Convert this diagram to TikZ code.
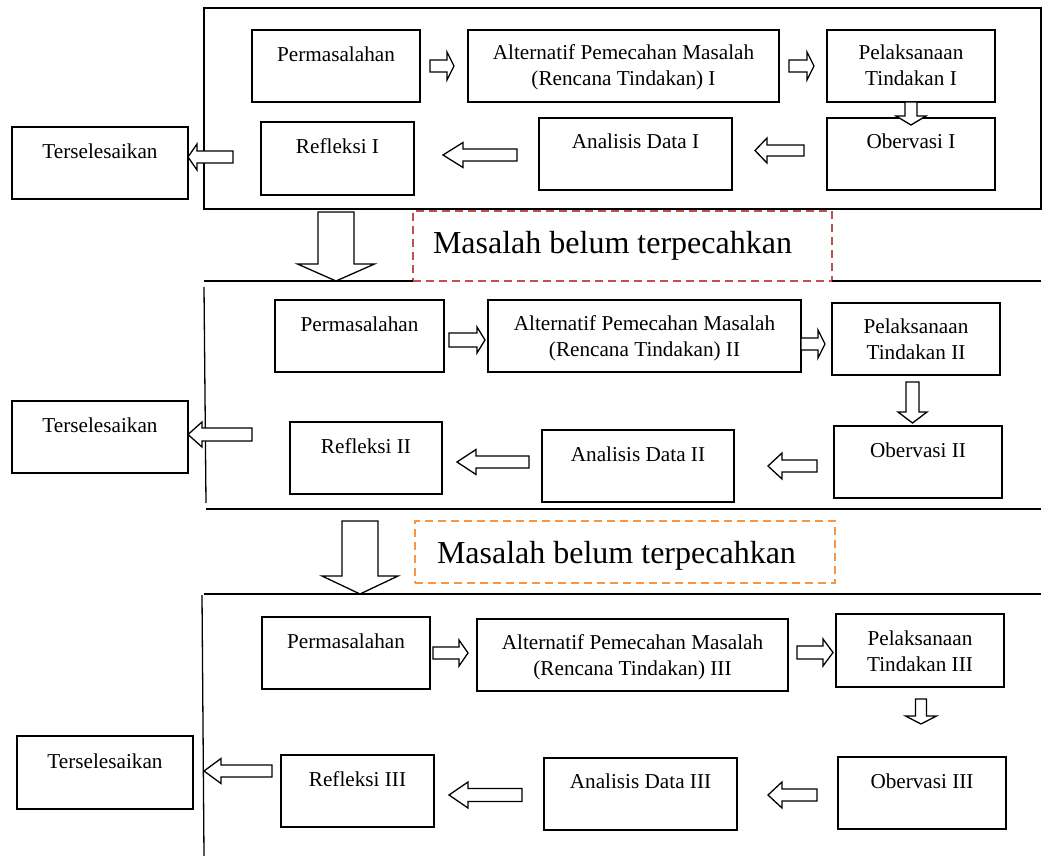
\documentclass[tikz,border=0pt]{standalone}
\usepackage{fontspec}
\setmainfont{Liberation Serif}
\usetikzlibrary{calc}
\definecolor{dred}{HTML}{C0504D}
\definecolor{dorange}{HTML}{F79646}
\tikzset{
  box/.style={draw=black, line width=1.3pt, inner sep=0pt, outer sep=0pt, font={\fontsize{21.2}{26}\selectfont}},
  frame/.style={draw=black, line width=1.3pt},
  hollow/.style={draw=black, line width=1.3pt, fill=white, line join=miter},
  dashbox/.style={line width=1.8pt, dash pattern=on 8pt off 5pt, fill=white, inner sep=0pt, outer sep=0pt, font={\fontsize{32}{38}\selectfont}},
}
% horizontal hollow arrow: tail coord, tip coord, shaft half, head half, head length (signed)
\newcommand{\harrowC}[5]{\draw[hollow] let \p1=(#1), \p2=(#2) in
  (\x2,\y2) -- ({\x2-(#5)*1pt},{\y2+#4pt}) -- ({\x2-(#5)*1pt},{\y2+#3pt}) -- (\x1,{\y2+#3pt})
  -- (\x1,{\y2-#3pt}) -- ({\x2-(#5)*1pt},{\y2-#3pt}) -- ({\x2-(#5)*1pt},{\y2-#4pt}) -- cycle;}
% downward hollow arrow
\newcommand{\darrowC}[5]{\draw[hollow] let \p1=(#1), \p2=(#2) in
  (\x2,\y2) -- ({\x2-#4pt},{\y2+#5pt}) -- ({\x2-#3pt},{\y2+#5pt}) -- ({\x2-#3pt},\y1)
  -- ({\x2+#3pt},\y1) -- ({\x2+#3pt},{\y2+#5pt}) -- ({\x2+#4pt},{\y2+#5pt}) -- cycle;}
% node to node wrappers: from, to, tail gap, tip gap, offset, shaft half, head half, head length
\newcommand{\rarr}[8]{\coordinate (tA) at ($(#1.east)+(#3,{-(#5)})$);
  \coordinate (tB0) at ($(#2.west)+(-#4,0)$); \coordinate (tB) at (tB0 |- tA);
  \harrowC{tA}{tB}{#6}{#7}{#8}}
\newcommand{\larr}[8]{\coordinate (tA) at ($(#1.west)+(-#3,{-(#5)})$);
  \coordinate (tB0) at ($(#2.east)+(#4,0)$); \coordinate (tB) at (tB0 |- tA);
  \harrowC{tA}{tB}{#6}{#7}{-(#8)}}
\newcommand{\darr}[8]{\coordinate (tA) at ($(#1.south)+(#5,-#3)$);
  \coordinate (tB0) at ($(#2.north)+(0,#4)$); \coordinate (tB) at (tA |- tB0);
  \darrowC{tA}{tB}{#6}{#7}{#8}}
% box: name, x, y, width, height, top-to-baseline, text
\newcommand{\bx}[7]{\node[box, anchor=north west] (#1) at (#2,-#3)
  {\parbox[c][#5pt][t]{#4pt}{\centering\rule{0pt}{#6pt}#7}};}
\begin{document}
\begin{tikzpicture}[x=1pt,y=1pt]
\useasboundingbox (0,0) rectangle (1044,-856);
% ---------- frames ----------
\draw[frame] (204,-8) rectangle (1041,-209);
\draw[frame] (204,-287) -- (206,-503);
\draw[frame] (206,-509) -- (1041,-509);
\draw[frame] (204,-594) -- (1041,-594);
\draw[frame] (202,-595) -- (204,-856);
% ---------- dashed notes ----------
\node[dashbox, draw=dred, anchor=north west] (m1) at (413,-211)
  {\parbox[c][70pt][t]{419pt}{\raggedright\rule{0pt}{42pt}\hspace*{20pt}Masalah belum terpecahkan}};
\draw[frame] (204,-281) -- (m1.south west);
\draw[frame] (m1.south east) -- (1041,-281);
\node[dashbox, draw=dorange, anchor=north west] (m2) at (415,-521)
  {\parbox[c][62pt][t]{420pt}{\raggedright\rule{0pt}{42pt}\hspace*{22pt}Masalah belum terpecahkan}};
% ---------- cycle I ----------
\bx{p1}{252}{30}{168}{72}{32}{Permasalahan}
\bx{a1}{468}{30}{311}{72}{30}{Alternatif Pemecahan Masalah\\(Rencana Tindakan) I}
\bx{l1}{827}{30}{168}{72}{30}{Pelaksanaan\\Tindakan I}
\bx{o1}{827}{118}{168}{72}{31}{Obervasi I}
\bx{d1}{539}{118}{193}{72}{31}{Analisis Data I}
\bx{r1}{261}{122}{153}{73}{31}{Refleksi I}
\bx{t1}{12}{127}{176}{72}{31}{Terselesaikan}
\rarr{p1}{a1}{10}{14}{0}{6}{14}{7}
\rarr{a1}{l1}{10}{13}{0}{6}{14}{7}
\darr{l1}{o1}{0}{-7}{0}{6}{15}{9}
\larr{o1}{d1}{23}{23}{-3.5}{5.5}{12.5}{12}
\larr{d1}{r1}{22}{29}{1}{6}{12.5}{20}
\larr{r1}{t1}{28}{0}{-1.5}{6}{13}{9}
% ---------- cycle II ----------
\bx{p2}{275}{300}{169}{72}{31}{Permasalahan}
\bx{a2}{488}{300}{313}{72}{30}{Alternatif Pemecahan Masalah\\(Rencana Tindakan) II}
\bx{l2}{832}{303}{168}{72}{30}{Pelaksanaan\\Tindakan II}
\bx{o2}{834}{426}{168}{72}{31}{Obervasi II}
\bx{d2}{542}{430}{192}{72}{31}{Analisis Data II}
\bx{r2}{290}{422}{152}{72}{31}{Refleksi II}
\bx{t2}{12}{401}{176}{72}{31}{Terselesaikan}
\rarr{p2}{a2}{5}{3}{4}{7}{13}{8}
\rarr{a2}{l2}{0}{7}{8}{6}{14}{7}
\darr{l2}{o2}{7}{3}{-3.5}{6.5}{14.5}{11}
\larr{o2}{d2}{17}{34}{4}{6}{13}{14}
\larr{d2}{r2}{13}{15}{-4}{6}{12.5}{19}
\larr{r2}{t2}{38}{0}{-23.5}{6.5}{12.5}{14}
% ---------- cycle III ----------
\bx{p3}{262}{617}{168}{72}{31}{Permasalahan}
\bx{a3}{477}{619}{311}{72}{30}{Alternatif Pemecahan Masalah\\(Rencana Tindakan) III}
\bx{l3}{836}{614}{168}{73}{31}{Pelaksanaan\\Tindakan III}
\bx{o3}{838}{757}{168}{72}{31}{Obervasi III}
\bx{d3}{544}{758}{193}{72}{30}{Analisis Data III}
\bx{r3}{281}{755}{153}{72}{31}{Refleksi III}
\bx{t3}{17}{736}{176}{73}{32}{Terselesaikan}
\rarr{p3}{a3}{3}{9}{0}{6}{13}{9}
\rarr{a3}{l3}{9}{3}{-2.5}{6.5}{13.5}{10}
\darr{l3}{o3}{12}{33}{1}{5.5}{15.5}{8}
\larr{o3}{d3}{21}{31}{2}{6}{13}{14}
\larr{d3}{r3}{22}{15}{1}{6.5}{13}{19}
\larr{r3}{t3}{9}{11}{-20}{6}{12.5}{17}
% ---------- big arrows between cycles ----------
\coordinate (g1a) at (336,-212);
\coordinate (g1b) at (336,-281);
\darrowC{g1a}{g1b}{18}{38.5}{17}
\coordinate (g2a) at (360,-521);
\coordinate (g2b) at (360,-594);
\darrowC{g2a}{g2b}{18}{38}{18}
\end{tikzpicture}
\end{document}
